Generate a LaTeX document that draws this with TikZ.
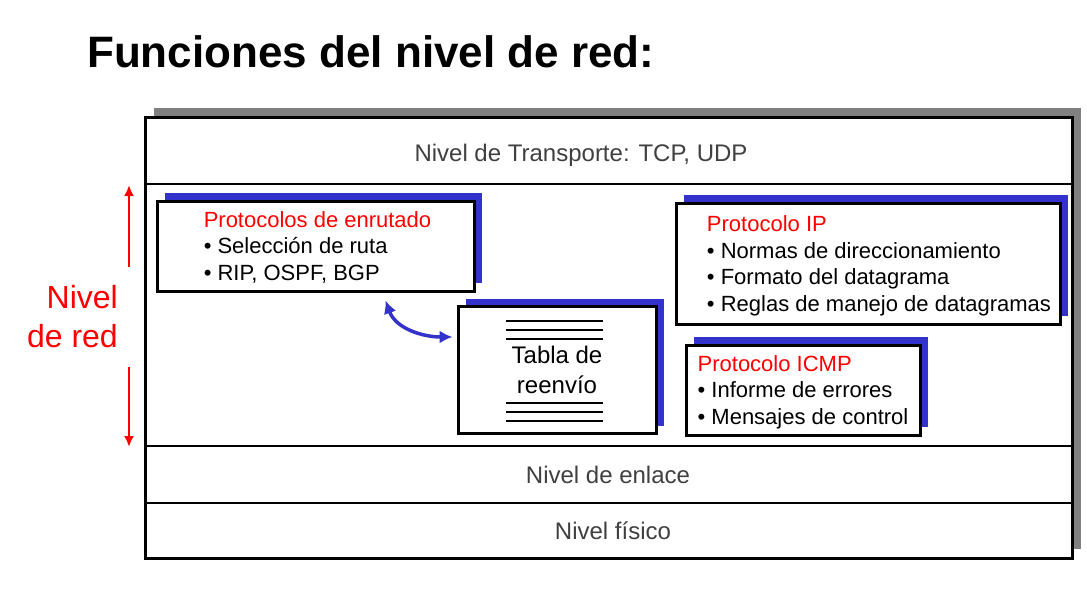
\documentclass[tikz,border=0pt]{standalone}
\usepackage{fontspec}
\setmainfont{Liberation Sans}
\usetikzlibrary{shadows,arrows.meta}
\definecolor{azulsombra}{HTML}{3333CC}
\definecolor{grissombra}{HTML}{808080}

\begin{document}
\begin{tikzpicture}[x=1pt,y=-1pt,
        capa/.style={text=black!75, font=\fontsize{24}{28}\selectfont},
        caja/.style={draw, line width=3pt, fill=white, align=left, inner sep=0pt,
            general shadow={shadow xshift=8pt, shadow yshift=8pt, fill=azulsombra},
            font=\fontsize{22}{26.5}\selectfont},
        flecharoja/.style={red, line width=2.5pt, -{Latex[length=11pt,width=10pt]}},
        flechaazul/.style={azulsombra, line width=3.5pt, {Latex[length=13pt,width=13pt]}-{Latex[length=13pt,width=13pt]}}]
    \useasboundingbox (0,0) rectangle (1087,589);

    \node[anchor=base west, inner sep=0pt, font=\fontsize{44}{50}\selectfont\bfseries] (titulo) at (87,67) {Funciones del nivel de red:};

    % pila de niveles
    \node[draw, line width=3pt, fill=white, minimum width=927pt, minimum height=441pt, inner sep=0pt,
        general shadow={shadow xshift=9pt, shadow yshift=9pt, fill=grissombra}] (pila) at (608.5,337.5) {};
    \foreach \y in {184, 446, 503}
        \draw[line width=2pt] (pila.west |- 0,\y) -- (pila.east |- 0,\y);

    \node[capa] (transporte) at (581,155) {Nivel de Transporte: TCP, UDP};
    \node[capa] (enlace) at (608,475) {Nivel de enlace};
    \node[capa] (fisico) at (613,531) {Nivel físico};

    % cajas del nivel de red
    \node[caja, minimum width=317pt, minimum height=90pt] (enrut) at (315.5,246) {};
    \node[align=left, inner sep=0pt, font=\fontsize{22}{26.5}\selectfont, text depth=0pt] (enruttexto) at ([xshift=2pt]enrut.center)
        {\textcolor{red}{Protocolos de enrutado}\\\textbullet\ Selección de ruta\\\textbullet\ RIP, OSPF, BGP};
    \node[caja, minimum width=384pt, minimum height=121pt] (ip) at (868,263.5) {};
    \node[align=left, inner sep=0pt, font=\fontsize{22}{26.5}\selectfont, text depth=0pt] (iptexto) at ([xshift=11pt]ip.center)
        {\textcolor{red}{Protocolo IP}\\\textbullet\ Normas de direccionamiento\\\textbullet\ Formato del datagrama\\\textbullet\ Reglas de manejo de datagramas};
    \node[caja, minimum width=234pt, minimum height=90pt, text depth=-6pt] (icmp) at (803,390)
        {\textcolor{red}{Protocolo ICMP}\\\textbullet\ Informe de errores\\\textbullet\ Mensajes de control};
    \node[caja, align=center, minimum width=198pt, minimum height=127pt, font=\fontsize{24}{30}\selectfont] (tabla) at (557,370)
        {Tabla de\\reenvío};
    \foreach \y in {321, 330, 339, 403, 412, 421}
        \draw[line width=1.5pt] (506,\y) -- (603,\y);

    \draw[flechaazul] ([xshift=70pt,yshift=-8pt]enrut.south) to[out=-70,in=180] ([xshift=-4pt,yshift=33pt]tabla.west);

    % nivel de red
    \node[align=right, anchor=east, text=red, inner sep=0pt, font=\fontsize{32}{39}\selectfont] (nivelred) at (118,317) {Nivel\\de red};
    \coordinate (rojoarriba) at (129,185);
    \coordinate (rojoabajo) at (129,447);
    \draw[flecharoja] ([yshift=50pt]nivelred.center -| rojoarriba) -- (rojoarriba);
    \draw[flecharoja] ([yshift=-50pt]nivelred.center -| rojoabajo) -- (rojoabajo);
\end{tikzpicture}
\end{document}
